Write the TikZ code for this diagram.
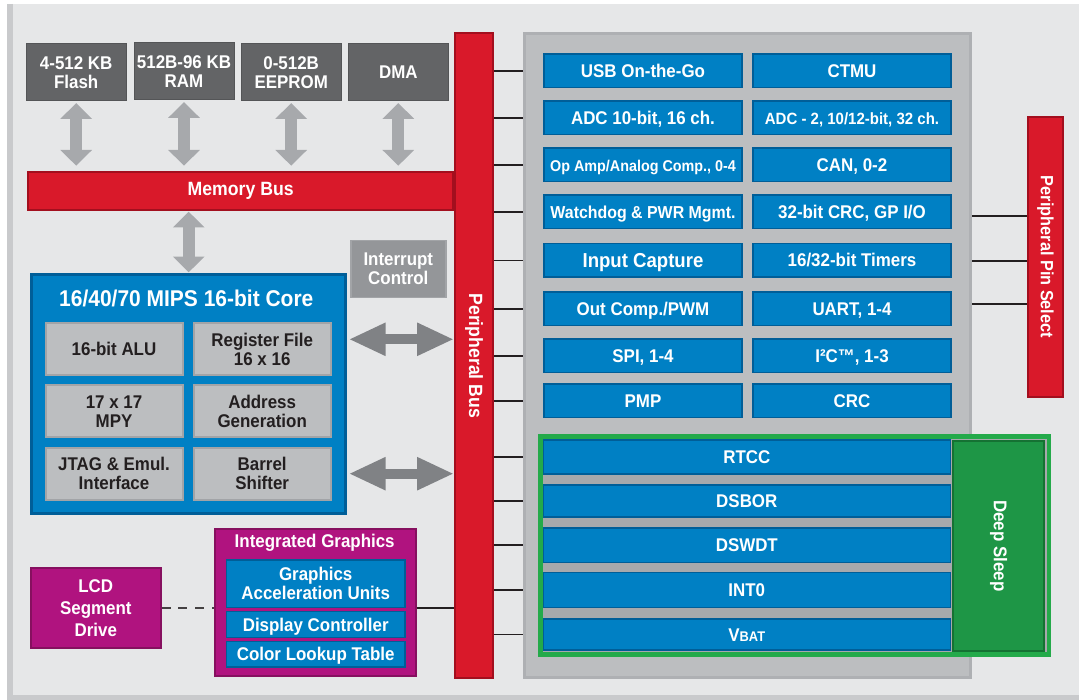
\documentclass[tikz,border=0pt]{standalone}
\usepackage{fontspec}
\setmainfont{Liberation Sans}[FakeStretch=0.92]
\usetikzlibrary{arrows.meta}

\definecolor{bgray}{HTML}{E6E7E8}
\definecolor{bedge}{HTML}{C9CACC}
\definecolor{memgray}{HTML}{636466}
\definecolor{memedge}{HTML}{545557}
\definecolor{arrlight}{HTML}{A7A9AC}
\definecolor{arrdark}{HTML}{808285}
\definecolor{intgray}{HTML}{949699}
\definecolor{busred}{HTML}{D9192A}
\definecolor{busedge}{HTML}{A30F1E}
\definecolor{chipblue}{HTML}{0080C4}
\definecolor{chipedge}{HTML}{005E98}
\definecolor{cellgray}{HTML}{BCBEC0}
\definecolor{celledge}{HTML}{A2A4A7}
\definecolor{txtdark}{HTML}{231F20}
\definecolor{periph}{HTML}{BCBEC0}
\definecolor{periphedge}{HTML}{AEB0B3}
\definecolor{gfxpink}{HTML}{B0137F}
\definecolor{gfxedge}{HTML}{86105F}
\definecolor{sleepgrn}{HTML}{1E9646}
\definecolor{sleepedge}{HTML}{157233}
\definecolor{sleepline}{HTML}{24AA4A}

\begin{document}
\begin{tikzpicture}[x=1pt,y=-1pt]
\tikzstyle{txt} = [text=white, font=\bfseries\fontsize{18.4}{19}\selectfont, align=center, inner sep=1pt]
\tikzstyle{memblk} = [txt, fill=memgray, draw=memedge, line width=1pt, minimum width=100pt, minimum height=57pt]
\tikzstyle{redbus} = [txt, fill=busred, draw=busedge, line width=2pt]
\tikzstyle{core} = [fill=chipblue, draw=chipedge, line width=3pt, minimum width=314pt, minimum height=239pt]
\tikzstyle{cell} = [txt, text=txtdark, fill=cellgray, draw=celledge, line width=2pt, minimum width=137pt, minimum height=52pt]
\tikzstyle{intbox} = [txt, fill=intgray, draw=celledge, line width=1.5pt, minimum width=95pt, minimum height=57pt]
\tikzstyle{pbox} = [fill=periph, draw=periphedge, line width=3pt, minimum width=446.6pt, minimum height=644pt]
\tikzstyle{chip} = [txt, fill=chipblue, draw=chipedge, line width=1.5pt, minimum width=198pt, minimum height=33.5pt]
\tikzstyle{chipone} = [chip, text height=13pt, text depth=0pt]
\tikzstyle{sleeprow} = [chipone, minimum width=407pt]
\tikzstyle{sleepbox} = [fill=arrlight, draw=sleepline, line width=4.5pt, minimum width=508.2pt, minimum height=218.2pt]
\tikzstyle{dsleep} = [txt, fill=sleepgrn, draw=sleepedge, line width=2pt, minimum width=91.6pt, minimum height=209.7pt]
\tikzstyle{gfxbox} = [txt, fill=gfxpink, draw=gfxedge, line width=2pt]
\tikzstyle{memarrow} = [arrlight, line width=12.3pt, {Triangle[width=30.7pt,length=15.7pt]}-{Triangle[width=30.7pt,length=15.7pt]}]
\tikzstyle{cpuarrow} = [arrdark, line width=10pt, {Triangle[width=30.7pt,length=37pt]}-{Triangle[width=30.7pt,length=37pt]}]
\tikzstyle{bustick} = [txtdark, line width=1.8pt]
\tikzstyle{dashline} = [txtdark!85, line width=2pt, dash pattern=on 9pt off 7.7pt]

\useasboundingbox (0,0) rectangle (1079,700);
\fill[white] (0,0) rectangle (1079,700);
\fill[bgray] (7.3,4) rectangle (1079,700);
\draw[bedge, line width=6pt] (10.3,4) -- (10.3,698) -- (1079,698);

\node[memblk] (flash) at (76.2,72.5) {4-512 KB\\Flash};
\node[memblk] (ram) at (184,71.5) {512B-96 KB\\RAM};
\node[memblk] (eeprom) at (291.2,72.5) {0-512B\\EEPROM};
\node[memblk] (dma) at (398.3,72.5) {DMA};

\node[redbus, minimum width=425pt, minimum height=38pt, font=\bfseries\fontsize{19.2}{20}\selectfont] (membus) at (240.7,190.7) {Memory Bus};
\node[redbus, minimum width=38pt, minimum height=645pt, font=\bfseries\fontsize{19.2}{20}\selectfont] (pbus) at (474,355.8) {\rotatebox{-90}{Peripheral Bus}};

\draw[memarrow, shorten <=1.6pt, shorten >=5pt] (flash.south) -- (flash.south |- membus.north);
\draw[memarrow, shorten <=1.6pt, shorten >=5pt] (ram.south) -- (ram.south |- membus.north);
\draw[memarrow, shorten <=1.6pt, shorten >=5pt] (eeprom.south) -- (eeprom.south |- membus.north);
\draw[memarrow, shorten <=1.6pt, shorten >=5pt] (dma.south) -- (dma.south |- membus.north);

\node[core] (core) at (188.7,394.3) {};
\node[txt, font=\bfseries\fontsize{22.8}{24}\selectfont] (coretitle) at (186.3,298) {16/40/70 MIPS 16-bit Core};
\node[cell] (alu) at (114,349.2) {16-bit ALU};
\node[cell] (regfile) at (262.2,349.2) {Register File\\16 x 16};
\node[cell] (mpy) at (114,411.3) {17 x 17\\MPY};
\node[cell] (agu) at (262.2,411.3) {Address\\Generation};
\node[cell] (jtag) at (114,473.7) {JTAG \& Emul.\\Interface};
\node[cell] (shifter) at (262.2,473.7) {Barrel\\Shifter};

\draw[memarrow, shorten <=1pt, shorten >=1pt] (core.north) -- (core.north |- membus.south);

\node[intbox] (intctl) at (398.3,269.2) {Interrupt\\Control};

\coordinate (cpuio) at (400,339.3);
\draw[cpuarrow, shorten <=1.5pt] (cpuio -| core.east) -- (cpuio -| pbus.west);
\draw[cpuarrow, shorten <=1.5pt] (shifter -| core.east) -- (shifter -| pbus.west);

\node[pbox] (pbox) at (747.5,355.8) {};

\node[chipone] (usb) at (643,70.8) {USB On-the-Go};
\node[chipone] (ctmu) at (852,70.8) {CTMU};
\node[chipone] (adc) at (643,118) {ADC 10-bit, 16 ch.};
\node[chipone, font=\bfseries\fontsize{16.3}{18}\selectfont] (adcb) at (852,118) {ADC - 2, 10/12-bit, 32 ch.};
\node[chipone, font=\bfseries\fontsize{15.6}{18}\selectfont] (opamp) at (643,165) {Op Amp/Analog Comp., 0-4};
\node[chipone] (can) at (852,165) {CAN, 0-2};
\node[chipone, font=\bfseries\fontsize{17.3}{18}\selectfont] (wdt) at (643,212) {Watchdog \& PWR Mgmt.};
\node[chipone] (crcio) at (852,212) {32-bit CRC, GP I/O};
\node[chipone, font=\bfseries\fontsize{20.2}{21}\selectfont, text height=14.5pt] (icap) at (643,260.5) {Input Capture};
\node[chipone] (timers) at (852,260.5) {16/32-bit Timers};
\node[chipone] (ocomp) at (643,308.7) {Out Comp./PWM};
\node[chipone] (uart) at (852,308.7) {UART, 1-4};
\node[chipone] (spi) at (643,356) {SPI, 1-4};
\node[chipone] (iic) at (852,356) {I²C™, 1-3};
\node[chipone] (pmp) at (643,400.8) {PMP};
\node[chipone] (crc) at (852,400.8) {CRC};

\node[sleepbox] (dsgrp) at (794.7,545.4) {};
\node[sleeprow, minimum height=34pt] (rtcc) at (746.8,457.2) {RTCC};
\node[sleeprow, minimum height=32pt] (dsbor) at (746.8,500.8) {DSBOR};
\node[sleeprow, minimum height=34.5pt] (dswdt) at (746.8,545.3) {DSWDT};
\node[sleeprow, minimum height=35pt] (intz) at (746.8,590) {INT0};
\node[sleeprow, minimum height=31pt] (vbat) at (746.8,634.5) {V{\fontsize{14}{16}\selectfont BAT}};
\node[dsleep] (dsleep) at (998.5,545.9) {\rotatebox{-90}{Deep Sleep}};

\node[redbus, minimum width=35.7pt, minimum height=280.5pt, font=\bfseries\fontsize{17.7}{19}\selectfont] (pps) at (1045.5,257) {\rotatebox{-90}{Peripheral Pin Select}};
\coordinate (pin1) at (1026.7,216.4);
\coordinate (pin2) at (1026.7,261.2);
\coordinate (pin3) at (1026.7,303.9);
\draw[bustick] (pbox.east |- pin1) -- (pin1);
\draw[bustick] (pbox.east |- pin2) -- (pin2);
\draw[bustick] (pbox.east |- pin3) -- (pin3);

\draw[bustick] (pbus.east |- usb) -- (pbox.west |- usb);
\draw[bustick] (pbus.east |- adc) -- (pbox.west |- adc);
\draw[bustick] (pbus.east |- opamp) -- (pbox.west |- opamp);
\draw[bustick] (pbus.east |- wdt) -- (pbox.west |- wdt);
\draw[bustick] (pbus.east |- icap) -- (pbox.west |- icap);
\draw[bustick] (pbus.east |- ocomp) -- (pbox.west |- ocomp);
\draw[bustick] (pbus.east |- spi) -- (pbox.west |- spi);
\draw[bustick] (pbus.east |- pmp) -- (pbox.west |- pmp);
\draw[bustick] (pbus.east |- rtcc) -- (pbox.west |- rtcc);
\draw[bustick] (pbus.east |- dsbor) -- (pbox.west |- dsbor);
\draw[bustick] (pbus.east |- dswdt) -- (pbox.west |- dswdt);
\draw[bustick] (pbus.east |- intz) -- (pbox.west |- intz);
\draw[bustick] (pbus.east |- vbat) -- (pbox.west |- vbat);

\node[gfxbox, minimum width=200.7pt, minimum height=146.4pt] (gfx) at (315.3,602.5) {};
\node[txt] (gfxtitle) at (314.7,542.3) {Integrated Graphics};
\node[chip, minimum width=178.5pt, minimum height=47.5pt] (gau) at (315.7,583.8) {Graphics\\Acceleration Units};
\node[chipone, minimum width=178.5pt, minimum height=26pt] (dispctl) at (315.7,624.5) {Display Controller};
\node[chipone, minimum width=178.5pt, minimum height=25.5pt] (clut) at (315.7,654.2) {Color Lookup Table};

\node[gfxbox, minimum width=129.7pt, minimum height=80pt, font=\bfseries\fontsize{18.4}{21.7}\selectfont] (lcd) at (95.8,608.3) {LCD\\Segment\\Drive};
\draw[dashline] (lcd.east) -- (lcd.east -| gfx.west);
\draw[bustick] (gfx.east |- lcd) -- (pbus.west |- lcd);
\end{tikzpicture}
\end{document}
